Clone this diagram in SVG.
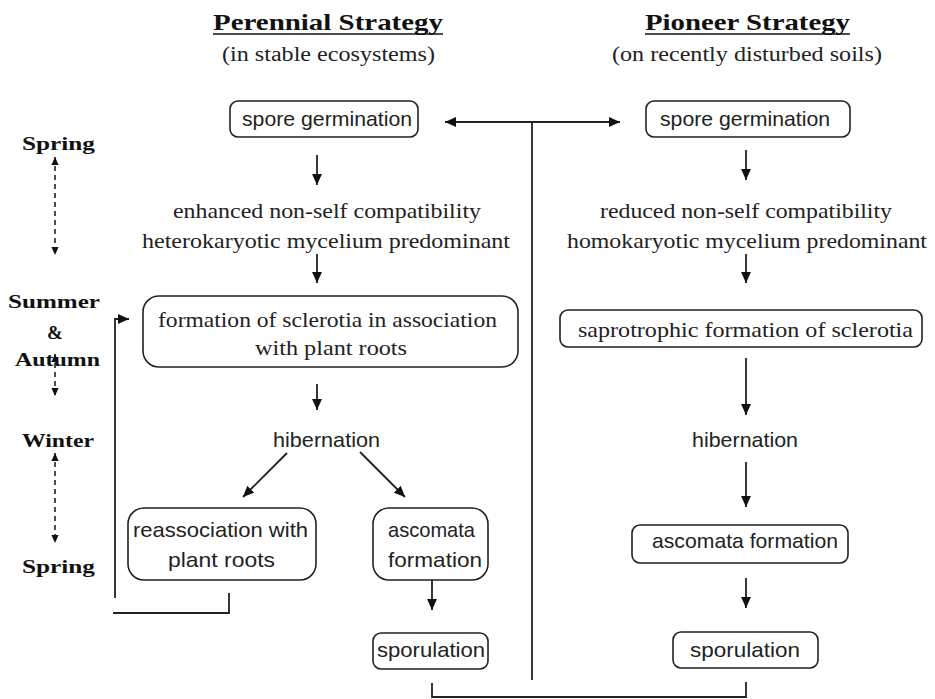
<svg xmlns="http://www.w3.org/2000/svg" width="935" height="699" viewBox="0 0 935 699">
<style>
.hd{font-family:"Liberation Serif","Times New Roman",serif;font-weight:bold;font-size:23px;fill:#111;text-anchor:middle}
.sub{font-family:"Liberation Serif","Times New Roman",serif;font-size:20px;fill:#222;text-anchor:middle}
.sr{font-family:"Liberation Serif","Times New Roman",serif;font-size:21px;fill:#222;text-anchor:middle}
.ss{font-family:"Liberation Sans",Arial,sans-serif;font-size:21px;fill:#222;text-anchor:middle}
.sea{font-family:"Liberation Serif","Times New Roman",serif;font-weight:bold;font-size:19px;fill:#111;text-anchor:middle}
.box{fill:none;stroke:#222;stroke-width:1.6}
.ln{fill:none;stroke:#222;stroke-width:1.8}
.ar{fill:none;stroke:#222;stroke-width:1.8;marker-end:url(#ah)}
.da{fill:none;stroke:#222;stroke-width:1.6;stroke-dasharray:5 4;marker-start:url(#sh);marker-end:url(#sh)}
</style>
<defs>
<marker id="ah" markerUnits="userSpaceOnUse" markerWidth="11" markerHeight="11" viewBox="0 0 10 10" refX="10" refY="5" orient="auto-start-reverse"><path d="M0,0.5 L10,5 L0,9.5 z" fill="#111"/></marker>
<marker id="sh" markerUnits="userSpaceOnUse" markerWidth="8" markerHeight="8" viewBox="0 0 10 10" refX="10" refY="5" orient="auto-start-reverse"><path d="M0,0.5 L10,5 L0,9.5 z" fill="#111"/></marker>
</defs>

<g id="headers">
<text class="hd" x="328" y="30" textLength="230" lengthAdjust="spacingAndGlyphs">Perennial Strategy</text>
<line x1="213" y1="34" x2="443" y2="34" stroke="#111" stroke-width="1.6"/>
<text class="sub" x="328.5" y="61" textLength="213" lengthAdjust="spacingAndGlyphs">(in stable ecosystems)</text>
<text class="hd" x="747.5" y="30" textLength="205" lengthAdjust="spacingAndGlyphs">Pioneer Strategy</text>
<line x1="645" y1="34" x2="850" y2="34" stroke="#111" stroke-width="1.6"/>
<text class="sub" x="747" y="61" textLength="270" lengthAdjust="spacingAndGlyphs">(on recently disturbed soils)</text>
</g>

<g id="seasons">
<text class="sea" x="58.5" y="150" textLength="73" lengthAdjust="spacingAndGlyphs">Spring</text>
<text class="sea" x="54" y="308" textLength="92" lengthAdjust="spacingAndGlyphs">Summer</text>
<text class="sea" x="55" y="339">&amp;</text>
<text class="sea" x="57.5" y="366" textLength="85" lengthAdjust="spacingAndGlyphs">Autumn</text>
<text class="sea" x="58" y="447" textLength="72" lengthAdjust="spacingAndGlyphs">Winter</text>
<text class="sea" x="58.5" y="573" textLength="73" lengthAdjust="spacingAndGlyphs">Spring</text>
</g>

<g id="p-spore">
<rect class="box" x="230" y="101" width="188" height="36" rx="8"/>
<text class="ss" x="327" y="126" textLength="170" lengthAdjust="spacingAndGlyphs">spore germination</text>
</g>
<g id="p-compat">
<text class="sr" x="327" y="218" textLength="308" lengthAdjust="spacingAndGlyphs">enhanced non-self compatibility</text>
<text class="sr" x="326" y="248" textLength="368" lengthAdjust="spacingAndGlyphs">heterokaryotic mycelium predominant</text>
</g>
<g id="p-sclerotia">
<rect class="box" x="143" y="296" width="375" height="71" rx="16"/>
<text class="sr" x="327.5" y="327" textLength="339" lengthAdjust="spacingAndGlyphs">formation of sclerotia in association</text>
<text class="sr" x="331" y="355" textLength="152" lengthAdjust="spacingAndGlyphs">with plant roots</text>
</g>
<g id="p-hibernation">
<text class="ss" x="326.5" y="447" textLength="107" lengthAdjust="spacingAndGlyphs">hibernation</text>
</g>
<g id="p-reassoc">
<rect class="box" x="128" y="508" width="188" height="72" rx="16"/>
<text class="ss" x="220.5" y="537" textLength="175" lengthAdjust="spacingAndGlyphs">reassociation with</text>
<text class="ss" x="221.5" y="567" textLength="107" lengthAdjust="spacingAndGlyphs">plant roots</text>
</g>
<g id="p-ascomata">
<rect class="box" x="373" y="508" width="115" height="72" rx="16"/>
<text class="ss" x="431.5" y="537" textLength="87" lengthAdjust="spacingAndGlyphs">ascomata</text>
<text class="ss" x="435" y="567" textLength="94" lengthAdjust="spacingAndGlyphs">formation</text>
</g>
<g id="p-sporulation">
<rect class="box" x="373" y="633" width="115" height="36" rx="8"/>
<text class="ss" x="431" y="657" textLength="108" lengthAdjust="spacingAndGlyphs">sporulation</text>
</g>

<g id="q-spore">
<rect class="box" x="646" y="101" width="204" height="36" rx="8"/>
<text class="ss" x="745" y="126" textLength="170" lengthAdjust="spacingAndGlyphs">spore germination</text>
</g>
<g id="q-compat">
<text class="sr" x="746" y="218" textLength="292" lengthAdjust="spacingAndGlyphs">reduced non-self compatibility</text>
<text class="sr" x="747" y="248" textLength="360" lengthAdjust="spacingAndGlyphs">homokaryotic mycelium predominant</text>
</g>
<g id="q-sclerotia">
<rect class="box" x="560" y="310" width="362" height="37" rx="8"/>
<text class="sr" x="745.5" y="337" textLength="335" lengthAdjust="spacingAndGlyphs">saprotrophic formation of sclerotia</text>
</g>
<g id="q-hibernation">
<text class="ss" x="745" y="447" textLength="106" lengthAdjust="spacingAndGlyphs">hibernation</text>
</g>
<g id="q-ascomata">
<rect class="box" x="632" y="525" width="216" height="38" rx="8"/>
<text class="ss" x="745" y="548" textLength="186" lengthAdjust="spacingAndGlyphs">ascomata formation</text>
</g>
<g id="q-sporulation">
<rect class="box" x="673" y="632" width="145" height="36" rx="8"/>
<text class="ss" x="745" y="657" textLength="110" lengthAdjust="spacingAndGlyphs">sporulation</text>
</g>

<g id="connectors">
<line class="da" x1="55" y1="157" x2="55" y2="255"/>
<line class="da" x1="55" y1="354" x2="55" y2="396"/>
<line class="da" x1="55" y1="453" x2="55" y2="543"/>
<line class="ar" x1="317" y1="155" x2="317" y2="185"/>
<line class="ar" x1="317" y1="254" x2="317" y2="283"/>
<line class="ar" x1="317" y1="384" x2="317" y2="410"/>
<line class="ar" x1="287" y1="453" x2="243" y2="497"/>
<line class="ar" x1="360" y1="452" x2="405" y2="497"/>
<line class="ar" x1="432" y1="580" x2="432" y2="610"/>
<polyline class="ln" points="229,593 229,613 113,613"/>
<polyline class="ar" points="115,598 115,319 129,319"/>
<line class="ar" x1="746" y1="150" x2="746" y2="180"/>
<line class="ar" x1="746" y1="254" x2="746" y2="283"/>
<line class="ar" x1="746" y1="358" x2="746" y2="415"/>
<line class="ar" x1="746" y1="462" x2="746" y2="507"/>
<line class="ar" x1="746" y1="578" x2="746" y2="608"/>
<line class="ln" x1="445" y1="122" x2="620" y2="122" style="marker-start:url(#ah);marker-end:url(#ah)"/>
<line class="ln" x1="532" y1="122" x2="532" y2="680"/>
<polyline class="ln" points="432,683 432,697 746,697 746,682"/>
</g>
</svg>
